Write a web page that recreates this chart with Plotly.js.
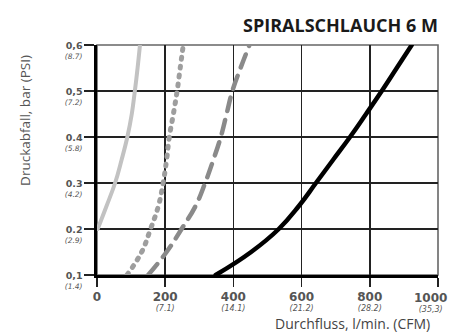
<!DOCTYPE html>
<html><head><meta charset="utf-8">
<script src="https://cdn.plot.ly/plotly-3.0.1.min.js"></script>
<style>html,body{margin:0;padding:0;background:#fff}#c{width:449px;height:332px}
#c path.js-line{stroke-linecap:round}</style>
</head><body><div id="c"></div>
<script>
// Series: flow (l/min) vs pressure drop (bar)
const lightFlow = [2, 28, 53, 72, 89, 102, 111, 119, 126];
const lightBar  = [0.2, 0.25, 0.3, 0.35, 0.4, 0.45, 0.5, 0.55, 0.6];
const dotFlow = [88, 131, 157, 180, 194, 204, 212, 224, 235, 244, 253];
const dotBar  = [0.1, 0.15, 0.2, 0.25, 0.3, 0.35, 0.4, 0.45, 0.5, 0.55, 0.6];
const dashFlow = [150, 204, 248, 289, 317, 341, 363, 380, 397, 421, 447];
const dashBar  = [0.1, 0.15, 0.2, 0.25, 0.3, 0.35, 0.4, 0.45, 0.5, 0.55, 0.6];
const blackFlow = [348, 452, 533, 592, 642, 692, 742, 789, 835, 879, 923];
const blackBar  = [0.1, 0.15, 0.2, 0.25, 0.3, 0.35, 0.4, 0.45, 0.5, 0.55, 0.6];

const xTickVals = [0, 200, 400, 600, 800, 1000];
const xTickMain = ['0', '200', '400', '600', '800', '1000'];
const xTickSub  = ['', '(7.1)', '(14.1)', '(21.2)', '(28.2)', '(35,3)'];
const yTickVals = [0.1, 0.2, 0.3, 0.4, 0.5, 0.6];
const yTickMain = ['0,1', '0.2', '0.3', '0.4', '0,5', '0,6'];
const yTickSub  = ['(1.4)', '(2.9)', '(4.2)', '(5.8)', '(7.2)', '(8.7)'];

const fmt = (m, s, size) => '<span style="font-size:' + size + 'px"><b>' + m + '</b></span>' +
  (s ? '<br><i>' + s + '</i>' : '');
const lastX = xTickVals.length - 1;
// last x label (at the right edge) is drawn as an annotation so it can sit inside the page
const xTickText = xTickMain.map((m, i) => i === lastX ? '' : fmt(m, xTickSub[i], 12));
const yTickText = yTickMain.map((m, i) => fmt(m, yTickSub[i], 9.5));

const traces = [
  {x: lightFlow, y: lightBar, mode: 'lines', line: {color: '#c2c2c2', width: 4, shape: 'spline', smoothing: 1.2}},
  {x: dotFlow, y: dotBar, mode: 'lines', line: {color: '#9e9e9e', width: 5, shape: 'spline', smoothing: 1.2, dash: '2px,7px'}},
  {x: dashFlow, y: dashBar, mode: 'lines', line: {color: '#8a8a8a', width: 4.5, shape: 'spline', smoothing: 1.2, dash: '14px,9px'}},
  {x: blackFlow, y: blackBar, mode: 'lines', line: {color: '#000', width: 4.5, shape: 'spline', smoothing: 1.3}}
];

const layout = {
  width: 449, height: 332,
  margin: {l: 97, r: 11, t: 45, b: 57},
  paper_bgcolor: '#fff', plot_bgcolor: '#fff',
  showlegend: false,
  font: {family: 'DejaVu Sans, sans-serif', size: 9, color: '#333'},
  xaxis: {
    range: [0, 1000], tickvals: xTickVals, ticktext: xTickText,
    showgrid: true, gridcolor: '#222', gridwidth: 1.6,
    showline: true, linecolor: '#000', linewidth: 3,
    ticks: 'outside', ticklen: 9, tickwidth: 1.6, tickcolor: '#222',
    tickfont: {family: 'DejaVu Sans, sans-serif', size: 8, color: '#555'},
    ticklabelstandoff: 4, ticklabeloverflow: 'allow',
    zeroline: false, fixedrange: true
  },
  yaxis: {
    range: [0.1, 0.6], tickvals: yTickVals, ticktext: yTickText,
    showgrid: true, gridcolor: '#222', gridwidth: 1.6,
    showline: true, linecolor: '#000', linewidth: 3,
    ticks: 'outside', ticklen: 10, tickwidth: 1.6, tickcolor: '#222',
    tickfont: {family: 'DejaVu Sans, sans-serif', size: 7.5, color: '#555'},
    ticklabelshift: 6, ticklabeloverflow: 'allow',
    zeroline: false, fixedrange: true
  },
  shapes: [
    {type: 'rect', xref: 'paper', yref: 'paper', x0: 0, x1: 1, y0: 0, y1: 1, line: {color: '#666', width: 1.6}, layer: 'below'}
  ],
  annotations: [
    {text: fmt(xTickMain[lastX], xTickSub[lastX], 12), xref: 'x', yref: 'paper', x: xTickVals[lastX], y: 0,
     xanchor: 'right', yanchor: 'top', xshift: 11, yshift: -14, showarrow: false, align: 'center',
     font: {family: 'DejaVu Sans, sans-serif', size: 8, color: '#555'}},
    {text: '<b>SPIRALSCHLAUCH 6 M</b>', xref: 'paper', yref: 'paper', x: 1, y: 1, xanchor: 'right', yanchor: 'bottom', yshift: 6, xshift: 2, showarrow: false,
     font: {family: 'Open Sans, sans-serif', size: 18, color: '#1a1a1a'}},
    {text: 'Durchfluss, l/min. (CFM)', xref: 'paper', yref: 'paper', x: 1, y: 0, xanchor: 'right', yanchor: 'top', yshift: -37, xshift: -6, showarrow: false,
     font: {family: 'Open Sans, sans-serif', size: 14, color: '#444'}},
    {text: 'Druckabfall, bar (PSI)', xref: 'paper', yref: 'paper', x: 0, y: 0.67, xanchor: 'center', yanchor: 'middle', xshift: -72, textangle: -90, showarrow: false,
     font: {family: 'Open Sans, sans-serif', size: 13.5, color: '#555'}}
  ]
};

Plotly.newPlot('c', traces, layout, {displayModeBar: false, staticPlot: true});
</script></body></html>
